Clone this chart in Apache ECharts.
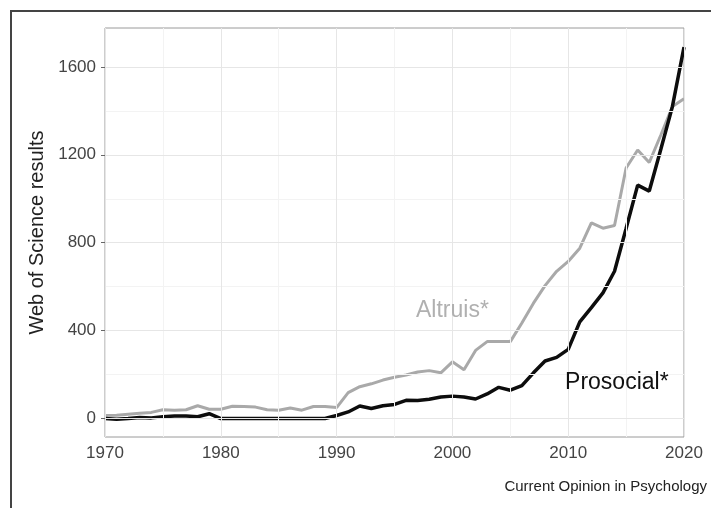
<!DOCTYPE html>
<html>
<head>
<meta charset="utf-8">
<script src="https://cdn.jsdelivr.net/npm/echarts@6/dist/echarts.min.js"></script>
<style>
  html, body { margin: 0; padding: 0; background: #fff; }
  #chart { width: 711px; height: 508px; }
</style>
</head>
<body>
<div id="chart"></div>
<script>
// Yearly Web of Science hits for the two search terms
const years = [];
for (let y = 1970; y <= 2020; y++) years.push(y);

const altruism = [
  14, 15, 20, 24, 28, 40, 38, 40, 58, 42,
  42, 56, 55, 52, 40, 38, 48, 38, 55, 55,
  50, 118, 145, 158, 175, 188, 198, 212, 218, 208,
  258, 222, 310, 350, 350, 350, 435, 525, 605, 670,
  715, 775, 890, 866, 878, 1140, 1222, 1165, 1290, 1420,
  1455
];

const prosocial = [
  0, -3, 0, 5, 3, 8, 11, 12, 8, 22,
  0, 0, 0, 0, 0, 0, 0, 0, 0, 0,
  14, 30, 57, 46, 58, 64, 83, 82, 88, 98,
  102, 98, 89, 112, 142, 129, 150, 208, 262, 278,
  315, 440, 505, 572, 670, 865, 1062, 1035, 1225, 1420,
  1690
];

const yTicks = [0, 400, 800, 1200, 1600];
const yMinor = [200, 600, 1000, 1400];
const xTicks = [1970, 1980, 1990, 2000, 2010, 2020];
const xMinor = [1975, 1985, 1995, 2005, 2015];

const seriesLabels = { altruism: 'Altruis*', prosocial: 'Prosocial*' };
const captionText = 'Current Opinion in Psychology';
const yTitle = 'Web of Science results';

const pairs = vals => years.map((y, i) => [y, vals[i]]);

const FONT = '"Liberation Sans", Arial, sans-serif';
const majorGrid = { color: '#e6e6e6', width: 1, type: 'solid' };
const minorGrid = { color: '#f3f3f3', width: 1, type: 'solid' };

const gridLines = [].concat(
  yMinor.map(v => ({ yAxis: v, lineStyle: minorGrid })),
  xMinor.map(v => ({ xAxis: v, lineStyle: minorGrid })),
  yTicks.map(v => ({ yAxis: v, lineStyle: majorGrid })),
  xTicks.map(v => ({ xAxis: v, lineStyle: majorGrid }))
);

const plain = v => String(v);

const chart = echarts.init(document.getElementById('chart'), null, { renderer: 'canvas' });

chart.setOption({
  animation: false,
  backgroundColor: '#fff',
  textStyle: { fontFamily: FONT },
  grid: {
    left: 105, right: 27, top: 28, bottom: 71,
    show: true, borderColor: '#9a9a9a', borderWidth: 1, backgroundColor: 'transparent'
  },
  xAxis: {
    type: 'value',
    min: 1970, max: 2020, interval: 10,
    axisLine: { show: false },
    axisTick: { show: true, length: 4, lineStyle: { color: '#666' } },
    axisLabel: { color: '#444', fontSize: 17, margin: 8, fontFamily: FONT, formatter: plain },
    splitLine: { show: false }
  },
  yAxis: {
    type: 'value',
    min: -84, max: 1777,
    name: yTitle,
    nameLocation: 'middle',
    nameGap: 56,
    nameRotate: 90,
    nameTextStyle: { color: '#222', fontSize: 20, fontFamily: FONT },
    axisLine: { show: false },
    axisTick: { show: true, length: 4, lineStyle: { color: '#666' }, customValues: yTicks },
    axisLabel: { color: '#444', fontSize: 17, margin: 9, fontFamily: FONT, customValues: yTicks, formatter: plain },
    splitLine: { show: false }
  },
  graphic: [
    {
      type: 'polyline',
      shape: { points: [[11, 508], [11, 11], [711, 11]] },
      style: { stroke: '#444', lineWidth: 2, fill: null }
    },
    {
      type: 'text',
      right: 4, top: 479,
      style: { text: captionText, fill: '#222', font: '15px ' + FONT }
    }
  ],
  series: [
    {
      type: 'line',
      data: [],
      z: 1,
      silent: true,
      markLine: {
        silent: true,
        symbol: ['none', 'none'],
        label: { show: false },
        animation: false,
        data: gridLines
      }
    },
    {
      name: seriesLabels.altruism,
      type: 'line',
      data: pairs(altruism),
      z: 3,
      showSymbol: false,
      lineStyle: { color: '#a9a9a9', width: 3 },
      markPoint: {
        symbol: 'circle', symbolSize: 0,
        label: { show: true, formatter: seriesLabels.altruism, color: '#b0b0b0', fontSize: 23, fontFamily: FONT },
        data: [{ coord: [2000, 490] }]
      }
    },
    {
      name: seriesLabels.prosocial,
      type: 'line',
      data: pairs(prosocial),
      z: 4,
      showSymbol: false,
      lineStyle: { color: '#0d0d0d', width: 3.5 },
      markPoint: {
        symbol: 'circle', symbolSize: 0,
        label: { show: true, formatter: seriesLabels.prosocial, color: '#111', fontSize: 23, fontFamily: FONT },
        data: [{ coord: [2014.2, 163] }]
      }
    }
  ]
});
</script>
</body>
</html>
